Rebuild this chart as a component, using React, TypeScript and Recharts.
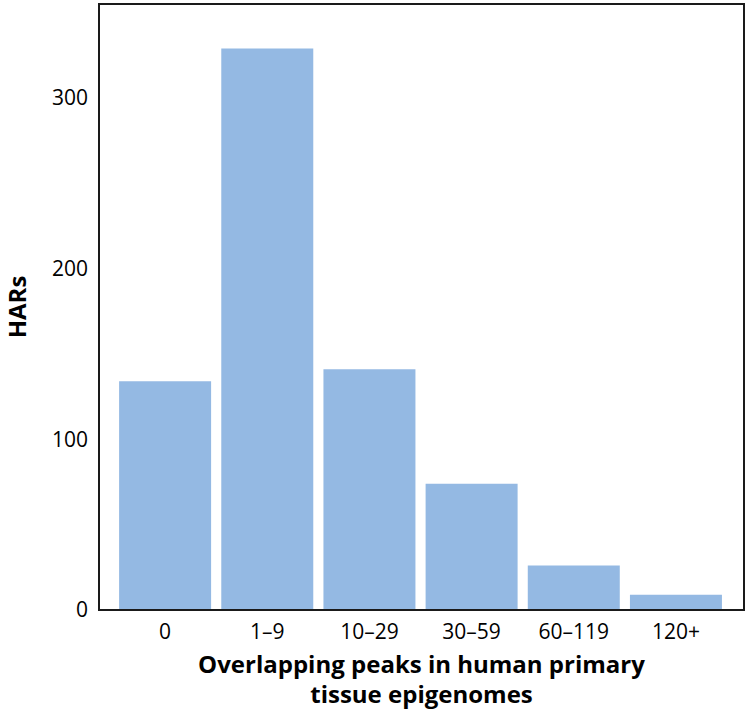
import { BarChart, Bar, XAxis, YAxis, usePlotArea } from 'recharts'

// ─── Data ─────────────────────────────────────────────────────────────────────

const categories = ['0', '1–9', '10–29', '30–59', '60–119', '120+']
const harCounts = [134, 329, 141, 74, 26, 9]
const yTicks = [0, 100, 200, 300]

const data = categories.map((bin, i) => ({ bin, hars: harCounts[i] }))

const FONT = '"Open Sans", sans-serif'
const BAR_COLOR = '#94B9E3'
const FRAME = '#1a1a1a'

// ─── Frame around the plot area ───────────────────────────────────────────────

function PlotFrame() {
  const area = usePlotArea()
  if (!area) return null
  return (
    <rect
      x={area.x}
      y={area.y}
      width={area.width}
      height={area.height}
      fill="none"
      stroke={FRAME}
      strokeWidth={2}
    />
  )
}

// ─── Axis titles ──────────────────────────────────────────────────────────────

function XTitle({ viewBox }: { viewBox?: { x: number; y: number; width: number } }) {
  if (!viewBox) return null
  const cx = viewBox.x + viewBox.width / 2
  return (
    <text x={cx} textAnchor="middle" fontFamily={FONT} fontWeight={700} fontSize={24} fill="#000">
      <tspan x={cx} y={viewBox.y + 63}>Overlapping peaks in human primary</tspan>
      <tspan x={cx} y={viewBox.y + 93}>tissue epigenomes</tspan>
    </text>
  )
}

function YTitle() {
  return (
    <text
      x={26}
      y={307}
      transform="rotate(-90 26 307)"
      textAnchor="middle"
      fontFamily={FONT}
      fontWeight={700}
      fontSize={24}
      fill="#000"
    >
      HARs
    </text>
  )
}

// ─── App ──────────────────────────────────────────────────────────────────────

export default function App() {
  const tickStyle = { fontFamily: FONT, fontSize: 21, fill: '#000' }
  return (
    <div style={{ position: 'absolute', left: 0, top: 0, background: '#fff' }}>
      <BarChart
        width={750}
        height={710}
        data={data}
        margin={{ top: 4, right: 6, bottom: 0, left: 0 }}
        barCategoryGap="5%"
      >
        <XAxis
          dataKey="bin"
          height={100}
          padding={{ left: 15, right: 17 }}
          tick={tickStyle}
          tickLine={false}
          tickSize={0}
          tickMargin={14}
          axisLine={{ stroke: FRAME, strokeWidth: 2 }}
          interval={0}
          label={<XTitle />}
        />
        <YAxis
          width={99}
          domain={[0, 355]}
          ticks={yTicks}
          tick={tickStyle}
          tickLine={false}
          tickSize={0}
          tickMargin={11}
          axisLine={{ stroke: FRAME, strokeWidth: 2 }}
          label={<YTitle />}
        />
        <Bar dataKey="hars" fill={BAR_COLOR} isAnimationActive={false} />
        <PlotFrame />
      </BarChart>
    </div>
  )
}
